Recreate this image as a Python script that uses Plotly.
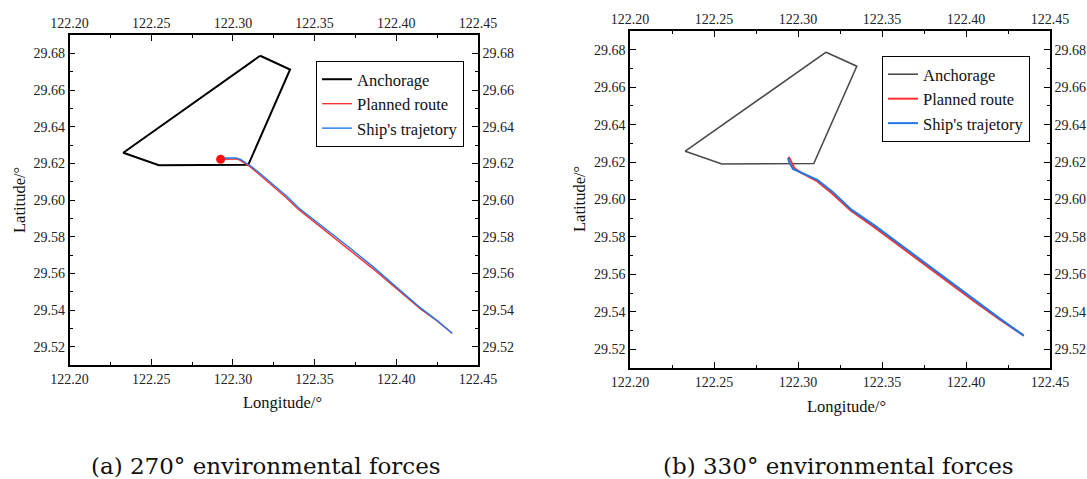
import plotly.graph_objects as go

W, H = 1087, 479

# ---------------- data ----------------
anch_lon = [122.3167, 122.3350, 122.3094, 122.2547, 122.2329, 122.3167]
anch_lat = [29.6787, 29.6712, 29.6192, 29.6190, 29.6258, 29.6787]

# (a) 270 deg
plan_a_lon = [122.2925, 122.2960, 122.3025, 122.3045, 122.3075, 122.3100, 122.3160, 122.3250, 122.3330,
              122.3400, 122.3550, 122.3700, 122.3850, 122.4000, 122.4150, 122.4250, 122.4342]
plan_a_lat = [29.6222, 29.6224, 29.6224, 29.6216, 29.6200, 29.6185, 29.6140, 29.6070, 29.6010,
              29.5950, 29.5845, 29.5740, 29.5630, 29.5518, 29.5405, 29.5340, 29.5273]
traj_a_lon = [122.2925, 122.2960, 122.3020, 122.3050, 122.3080, 122.3105, 122.3165, 122.3255, 122.3335,
              122.3405, 122.3555, 122.3705, 122.3855, 122.4005, 122.4150, 122.4250, 122.4342]
traj_a_lat = [29.6226, 29.6229, 29.6229, 29.6220, 29.6202, 29.6188, 29.6146, 29.6078, 29.6016,
              29.5955, 29.5852, 29.5746, 29.5638, 29.5524, 29.5410, 29.5342, 29.5273]
start_a_lon = [122.2925]
start_a_lat = [29.6222]

# (b) 330 deg
plan_b_lon = [122.2945, 122.2960, 122.2978, 122.3010, 122.3060, 122.3110, 122.3200, 122.3260, 122.3315,
              122.3450, 122.3600, 122.3750, 122.3900, 122.4050, 122.4200, 122.4344]
plan_b_lat = [29.6228, 29.6200, 29.6168, 29.6148, 29.6125, 29.6100, 29.6035, 29.5985, 29.5940,
              29.5855, 29.5755, 29.5655, 29.5555, 29.5455, 29.5360, 29.5273]
traj_b_lon = [122.2940, 122.2950, 122.2970, 122.3005, 122.3060, 122.3115, 122.3205, 122.3265, 122.3318,
              122.3455, 122.3605, 122.3755, 122.3905, 122.4055, 122.4200, 122.4344]
traj_b_lat = [29.6222, 29.6195, 29.6163, 29.6148, 29.6128, 29.6105, 29.6042, 29.5993, 29.5946,
              29.5862, 29.5762, 29.5662, 29.5562, 29.5460, 29.5365, 29.5273]

x_range = [122.20, 122.45]
y_range = [29.51, 29.69]
names = ["Anchorage", "Planned route", "Ship's trajetory"]
captions = ["(a) 270° environmental forces", "(b) 330° environmental forces"]

# ---------------- layout geometry (px) ----------------
panels = [
    dict(x0=69.5, x1=478, y0=35, y1=365),
    dict(x0=630, x1=1050, y0=31, y1=368),
]
legend_pos = [(316, 61), (882, 56)]
xtitle_pos = [(282, 402), (846, 406)]
ytitle_pos = [(19, 200), (579, 199)]
caption_pos = [(266, 466), (838, 466)]

SERIF = "Liberation Serif"
TICKFONT = dict(family=SERIF, size=14, color="#222")
RED = "#ff3030"
BLUE = "#1f78e6"
anch_colors = ["#000000", "#4a4a4a"]

fig = go.Figure()

def px_x(v):
    return v / W

def px_y(v):
    return 1 - v / H

def add_panel(i, a_lon, a_lat, p_lon, p_lat, t_lon, t_lat, legend_name):
    xb = "x" if i == 0 else "x3"
    yb = "y" if i == 0 else "y3"
    xt = "x2" if i == 0 else "x4"
    yt = "y2" if i == 0 else "y4"
    fig.add_trace(go.Scatter(x=a_lon, y=a_lat, mode="lines", name=names[0],
                             line=dict(color=anch_colors[i], width=2 if i == 0 else 1.6),
                             xaxis=xb, yaxis=yb, legend=legend_name))
    fig.add_trace(go.Scatter(x=p_lon, y=p_lat, mode="lines", name=names[1],
                             line=dict(color=RED, width=1.4 if i == 0 else 2),
                             xaxis=xb, yaxis=yb, legend=legend_name))
    fig.add_trace(go.Scatter(x=t_lon, y=t_lat, mode="lines", name=names[2],
                             line=dict(color=BLUE, width=1.4 if i == 0 else 2),
                             xaxis=xb, yaxis=yb, legend=legend_name))
    # dummy trace to activate the top/right axes
    fig.add_trace(go.Scatter(x=[None], y=[None], mode="lines", showlegend=False,
                             hoverinfo="skip", xaxis=xt, yaxis=yt))

add_panel(0, anch_lon, anch_lat, plan_a_lon, plan_a_lat, traj_a_lon, traj_a_lat, "legend")
fig.add_trace(go.Scatter(x=start_a_lon, y=start_a_lat, mode="markers", showlegend=False,
                         marker=dict(color="#ff1010", size=9), xaxis="x", yaxis="y"))
add_panel(1, anch_lon, anch_lat, plan_b_lon, plan_b_lat, traj_b_lon, traj_b_lat, "legend2")

def xaxis_cfg(dom, anchor, side, overlay=None):
    d = dict(domain=dom, range=x_range, anchor=anchor, side=side, showline=True, automargin=False,
             linecolor="#000", linewidth=1.5, ticks="inside", ticklen=6, tickwidth=1.2,
             tickcolor="#000", dtick=0.05, tick0=122.20, tickformat=".2f",
             tickfont=TICKFONT, showgrid=False, zeroline=False, fixedrange=True,
             minor=dict(ticks="inside", ticklen=3.5, tickwidth=1.2, tickcolor="#000", dtick=0.025,
                        tick0=122.20, showgrid=False))
    if overlay:
        d["overlaying"] = overlay
    return d

def yaxis_cfg(dom, anchor, side, overlay=None):
    d = dict(domain=dom, range=y_range, anchor=anchor, side=side, showline=True, automargin=False,
             linecolor="#000", linewidth=1.5, ticks="inside", ticklen=6, tickwidth=1.2,
             tickcolor="#000", dtick=0.02, tick0=29.52, tickformat=".2f",
             tickfont=TICKFONT, showgrid=False, zeroline=False, fixedrange=True,
             minor=dict(ticks="inside", ticklen=3.5, tickwidth=1.2, tickcolor="#000", dtick=0.01,
                        tick0=29.51, showgrid=False))
    if overlay:
        d["overlaying"] = overlay
    return d

lay = {}
for i, p in enumerate(panels):
    xd = [px_x(p["x0"]), px_x(p["x1"])]
    yd = [px_y(p["y1"]), px_y(p["y0"])]
    if i == 0:
        lay["xaxis"] = xaxis_cfg(xd, "y", "bottom")
        lay["xaxis2"] = xaxis_cfg(xd, "y", "top", "x")
        lay["yaxis"] = yaxis_cfg(yd, "x", "left")
        lay["yaxis2"] = yaxis_cfg(yd, "x", "right", "y")
    else:
        lay["xaxis3"] = xaxis_cfg(xd, "y3", "bottom")
        lay["xaxis4"] = xaxis_cfg(xd, "y3", "top", "x3")
        lay["yaxis3"] = yaxis_cfg(yd, "x3", "left")
        lay["yaxis4"] = yaxis_cfg(yd, "x3", "right", "y3")

legend_common = dict(xanchor="left", yanchor="top", bgcolor="rgba(255,255,255,1)",
                     bordercolor="#000", borderwidth=1,
                     font=dict(family=SERIF, size=16.5, color="#111"),
                     tracegroupgap=0, itemwidth=30)
lay["legend"] = dict(x=px_x(legend_pos[0][0]), y=px_y(legend_pos[0][1]), **legend_common)
lay["legend2"] = dict(x=px_x(legend_pos[1][0]), y=px_y(legend_pos[1][1]), **legend_common)

annotations = []
for i in range(2):
    annotations.append(dict(text="Longitude/°", x=px_x(xtitle_pos[i][0]), y=px_y(xtitle_pos[i][1]),
                            xref="paper", yref="paper", showarrow=False, xanchor="center",
                            yanchor="middle", font=dict(family=SERIF, size=16.5, color="#111")))
    annotations.append(dict(text="Latitude/°", x=px_x(ytitle_pos[i][0]), y=px_y(ytitle_pos[i][1]),
                            xref="paper", yref="paper", showarrow=False, xanchor="center",
                            yanchor="middle", textangle=-90,
                            font=dict(family=SERIF, size=16.5, color="#111")))
    annotations.append(dict(text=captions[i], x=px_x(caption_pos[i][0]), y=px_y(caption_pos[i][1]),
                            xref="paper", yref="paper", showarrow=False, xanchor="center",
                            yanchor="middle", font=dict(family="DejaVu Serif", size=23, color="#111")))

fig.update_layout(template="none", width=W, height=H, margin=dict(l=0, r=0, t=0, b=0),
                  paper_bgcolor="white", plot_bgcolor="white", showlegend=True,
                  annotations=annotations, **lay)

fig.write_html("out.html", config={"displayModeBar": False},
               post_script="document.body.style.margin='0';document.body.style.padding='0';")
